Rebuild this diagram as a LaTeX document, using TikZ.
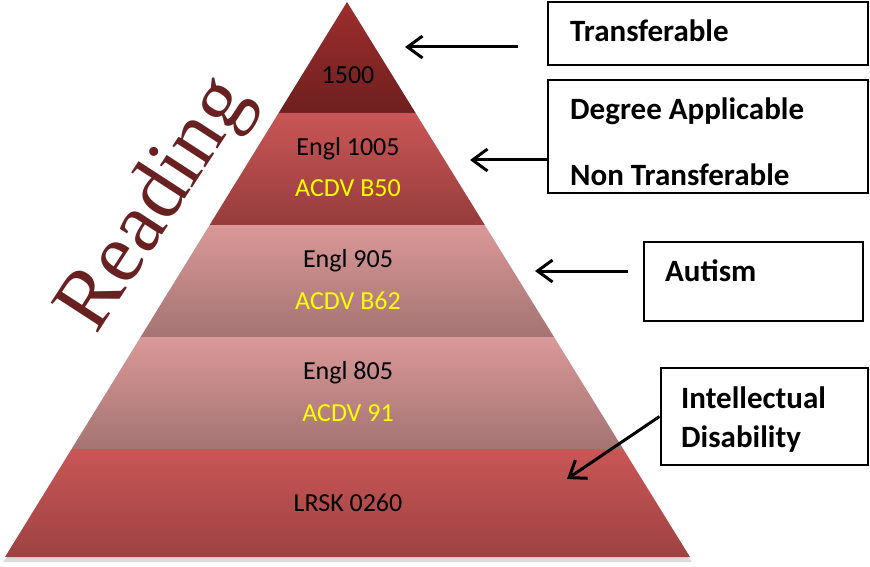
\documentclass[tikz,border=0pt]{standalone}
\usepackage{fontspec}
\setmainfont{Carlito}
\newfontfamily\rfont{Liberation Serif}
\usetikzlibrary{arrows.meta}
\definecolor{topA}{RGB}{158,46,46}
\definecolor{topB}{RGB}{110,31,31}
\definecolor{redA}{RGB}{202,86,86}
\definecolor{redB}{RGB}{150,60,60}
\definecolor{pinkA}{RGB}{218,152,152}
\definecolor{pinkB}{RGB}{165,115,115}
\definecolor{baseB}{RGB}{158,66,66}
\definecolor{readc}{RGB}{104,32,32}
\definecolor{lab}{RGB}{255,255,0}
\tikzset{
  infobox/.style={draw=black, line width=2pt, fill=white, inner sep=0pt},
  boxtext/.style={font=\fontsize{31}{31}\selectfont\bfseries, anchor=base west, inner sep=0pt},
  pyrtext/.style={font=\fontsize{26}{26}\selectfont, anchor=base, inner sep=0pt},
  pyryel/.style={pyrtext, text=lab},
  pointer/.style={draw=black, line width=3pt, -{Straight Barb[length=15pt,width=22pt]}}
}
\begin{document}
\begin{tikzpicture}[x=1pt,y=1pt]
\useasboundingbox (0,0) rectangle (870,566);
% shadow of pyramid
\fill[black!40, opacity=0.35] (3,4) -- (692,4) -- (688,9) -- (7,9) -- cycle;
% pyramid bands
\shade[top color=topA, bottom color=topB] (347,564) -- (415.6,453) -- (278.6,453) -- cycle;
\shade[top color=redA, bottom color=redB] (278.6,453) -- (415.6,453) -- (484.8,341) -- (209.6,341) -- cycle;
\shade[top color=pinkA, bottom color=pinkB] (209.6,341) -- (484.8,341) -- (554,229) -- (140.6,229) -- cycle;
\shade[top color=pinkA, bottom color=pinkB] (140.6,229) -- (554,229) -- (623.2,117) -- (71.6,117) -- cycle;
\shade[top color=redA, bottom color=baseB] (71.6,117) -- (623.2,117) -- (690,9) -- (5,9) -- cycle;
% pyramid labels
\node[pyrtext] (l1500) at (348,482) {1500};
\node[pyrtext] (e1005) at (348,410) {Engl 1005};
\node[pyryel] (b50) at (348,369) {ACDV B50};
\node[pyrtext] (e905) at (348,299) {Engl 905};
\node[pyryel] (b62) at (348,257) {ACDV B62};
\node[pyrtext] (e805) at (348,187) {Engl 805};
\node[pyryel] (a91) at (348,145) {ACDV 91};
\node[pyrtext] (lrsk) at (348,55) {LRSK 0260};
% Reading
\node[font=\rfont\fontsize{85}{85}\selectfont, text=readc, anchor=base, rotate=57, inner sep=0pt] (read) at (174,349) {Reading};
% boxes
\node[infobox, minimum width=320pt, minimum height=63pt] (b1) at (708,532.5) {};
\node[infobox, minimum width=320pt, minimum height=113pt] (b2) at (708,429.5) {};
\node[infobox, minimum width=219pt, minimum height=79pt] (b3) at (753.5,284.5) {};
\node[infobox, minimum width=207pt, minimum height=97pt] (b4) at (764,149.5) {};
\node[boxtext] (t1) at (570,524) {Transferable};
\node[boxtext] (t2a) at (570,446) {Degree Applicable};
\node[boxtext] (t2b) at (570,380) {Non Transferable};
\node[boxtext] (t3) at (665,285) {Autism};
\node[boxtext] (t4a) at (681,158) {Intellectual};
\node[boxtext] (t4b) at (681,119) {Disability};
% arrows
\coordinate (s1) at (518,519);
\coordinate (p1) at (405,519);
\coordinate (p2) at (470,406);
\coordinate (s3) at (628,295);
\coordinate (p3) at (535,295);
\coordinate (p4) at (567,87);
\draw[pointer] (s1) -- (p1);
\draw[pointer] (b2.west |- p2) -- (p2);
\draw[pointer] (s3) -- (p3);
\draw[pointer] (b4.west) -- (p4);
\end{tikzpicture}
\end{document}
